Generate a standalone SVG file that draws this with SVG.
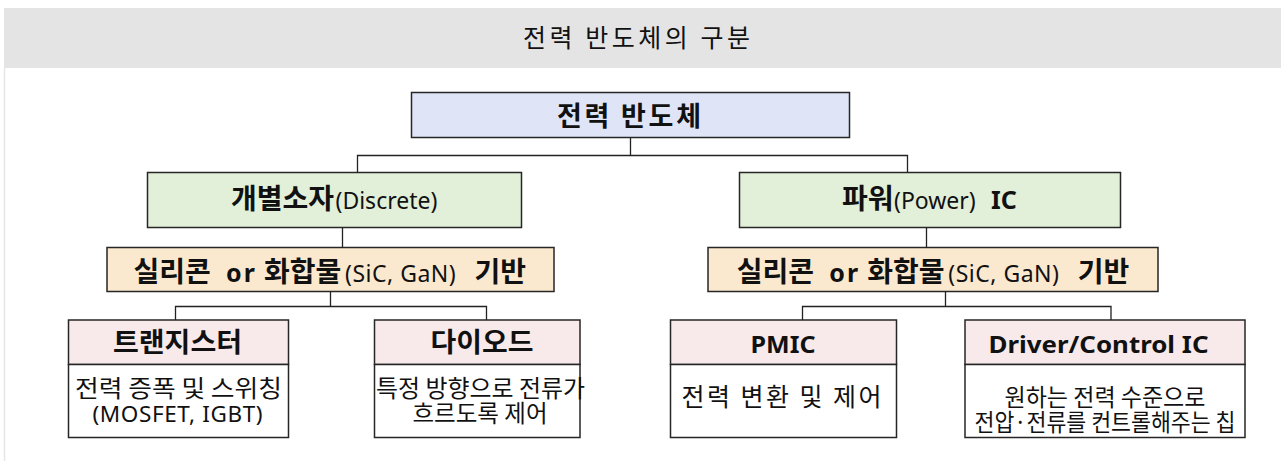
<svg xmlns="http://www.w3.org/2000/svg" width="1281" height="461" viewBox="0 0 1281 461">
<style>
text{font-family:"Noto Sans CJK KR","Noto Sans",sans-serif;fill:#111;}
.b{font-weight:bold;}
.lat{font-family:"Noto Sans","Noto Sans CJK KR",sans-serif;}
.box{stroke:#262626;stroke-width:1.5;}
.top{fill:#dfe4f7;}
.grn{fill:#e2efd9;}
.org{fill:#fbe9cf;}
.pnk{fill:#f8eaea;}
.wht{fill:#ffffff;}
.conn path{fill:none;stroke:#222;stroke-width:1.3;}
</style>
<rect x="0" y="0" width="1281" height="461" fill="#ffffff"/>
<g id="header">
<rect x="4" y="8" width="1277" height="60" fill="#e4e4e4"/>
<line x1="4.5" y1="68" x2="4.5" y2="461" stroke="#e6e6e6" stroke-width="1.5"/>
<text x="523" y="47" font-size="25" textLength="227" lengthAdjust="spacing">전력 반도체의 구분</text>
</g>
<g id="connectors" class="conn">
<path d="M630.5 137.5V155.5M357.5 172.5V155.5H907.5V172.5"/>
<path d="M342.5 227.5V247.5M926.5 227.5V247.5"/>
<path d="M330.5 291.5V306.5M175.5 320V306.5H486.5V320"/>
<path d="M945.5 291.5V306.5M802.5 320V306.5H1111V320"/>
</g>
<g id="node-root">
<rect class="box top" x="411.5" y="92.5" width="438" height="45"/>
<text class="b" x="557" y="126" font-size="27" textLength="144">전력 반도체</text>
</g>
<g id="node-discrete">
<rect class="box grn" x="147.5" y="172.5" width="374" height="55"/>
<text y="209"><tspan class="b" x="231" font-size="28">개별소자</tspan><tspan class="lat" x="335.5" font-size="23">(Discrete)</tspan></text>
</g>
<g id="node-poweric">
<rect class="box grn" x="739.5" y="172.5" width="381" height="55"/>
<text y="209"><tspan class="b" x="842" font-size="28">파워</tspan><tspan class="lat" x="894" font-size="23">(Power)</tspan><tspan class="lat b" x="991" font-size="25">IC</tspan></text>
</g>
<g id="node-base-left">
<rect class="box org" x="107" y="247.5" width="447" height="44"/>
<text y="282"><tspan class="b" x="133.5" font-size="28">실리콘</tspan><tspan class="lat b" x="226" font-size="25" letter-spacing="2">or</tspan><tspan class="b" x="264" font-size="28">화합물</tspan><tspan class="lat" x="345" font-size="23" letter-spacing="0.5">(SiC, GaN)</tspan><tspan class="b" x="474.5" font-size="28">기반</tspan></text>
</g>
<g id="node-base-right">
<rect class="box org" x="708" y="247.5" width="450" height="44"/>
<text y="282"><tspan class="b" x="736.8" font-size="28">실리콘</tspan><tspan class="lat b" x="829.3" font-size="25" letter-spacing="2">or</tspan><tspan class="b" x="867.3" font-size="28">화합물</tspan><tspan class="lat" x="948.3" font-size="23" letter-spacing="0.5">(SiC, GaN)</tspan><tspan class="b" x="1077.8" font-size="28">기반</tspan></text>
</g>
<g id="node-transistor">
<rect class="box pnk" x="68.5" y="320" width="220" height="44.5"/>
<rect class="box wht" x="68.5" y="364.5" width="220" height="73"/>
<text class="b" x="113" y="352" font-size="27" textLength="129" lengthAdjust="spacingAndGlyphs">트랜지스터</text>
<text x="75" y="396.5" font-size="23.5" textLength="207" lengthAdjust="spacingAndGlyphs">전력 증폭 및 스위칭</text>
<text class="lat" x="92.5" y="421.5" font-size="22.5" textLength="170">(MOSFET, IGBT)</text>
</g>
<g id="node-diode">
<rect class="box pnk" x="374.5" y="320" width="205.5" height="44.5"/>
<rect class="box wht" x="374.5" y="364.5" width="205.5" height="73"/>
<text class="b" x="430.5" y="352" font-size="27" textLength="103" lengthAdjust="spacingAndGlyphs">다이오드</text>
<text x="376" y="396.5" font-size="23.5" textLength="209" lengthAdjust="spacingAndGlyphs">특정 방향으로 전류가</text>
<text x="412.5" y="422" font-size="23.5" textLength="135" lengthAdjust="spacingAndGlyphs">흐르도록 제어</text>
</g>
<g id="node-pmic">
<rect class="box pnk" x="670.5" y="320" width="226" height="44.5"/>
<rect class="box wht" x="670.5" y="364.5" width="226" height="73"/>
<text class="lat b" x="750.5" y="352.5" font-size="24" textLength="65" lengthAdjust="spacingAndGlyphs">PMIC</text>
<text x="681.5" y="406" font-size="25" textLength="200">전력 변환 및 제어</text>
</g>
<g id="node-driver">
<rect class="box pnk" x="965" y="320" width="280" height="44.5"/>
<rect class="box wht" x="965" y="364.5" width="280" height="73"/>
<text class="lat b" x="988.5" y="352.5" font-size="24" textLength="220" lengthAdjust="spacingAndGlyphs">Driver/Control IC</text>
<text x="1004.5" y="405.5" font-size="23.5" textLength="201" lengthAdjust="spacingAndGlyphs">원하는 전력 수준으로</text>
<text x="974.5" y="431" font-size="23.5" textLength="261" lengthAdjust="spacingAndGlyphs">전압·전류를 컨트롤해주는 칩</text>
</g>
</svg>
